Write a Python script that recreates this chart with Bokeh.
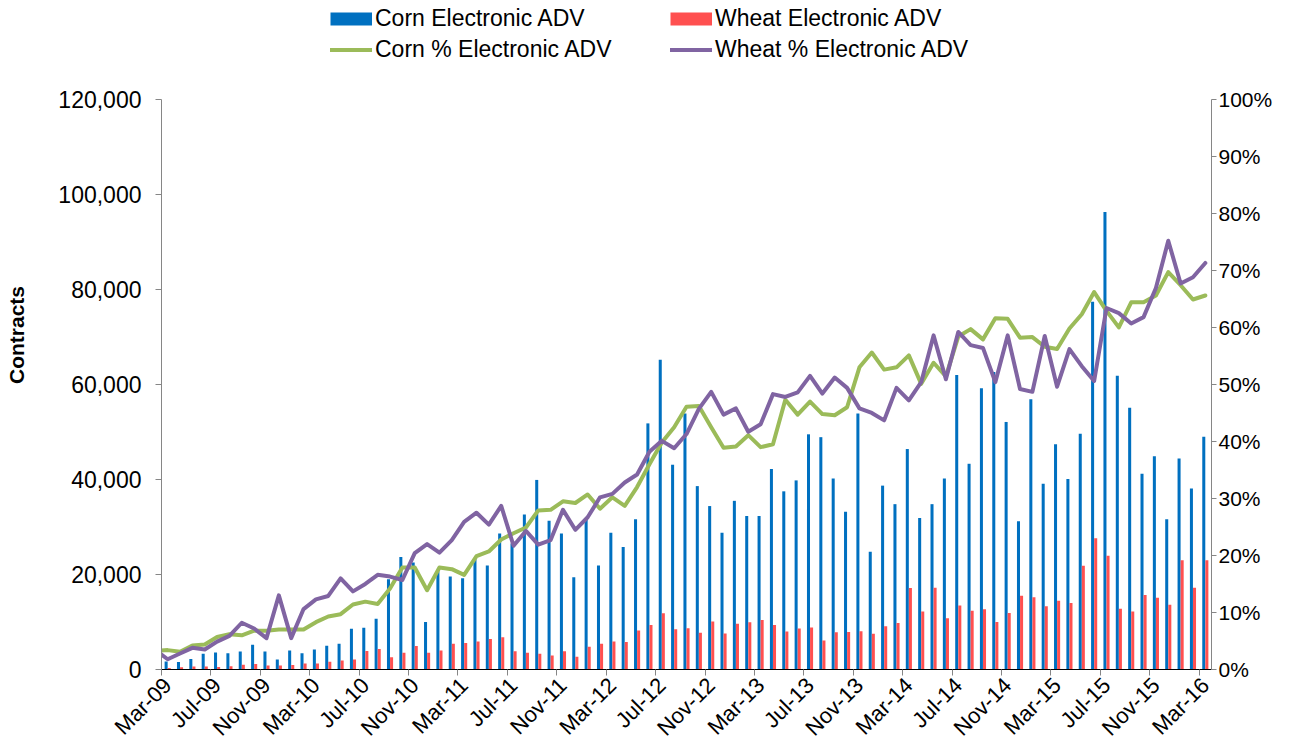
import math
from bokeh.plotting import figure
from bokeh.models import (Range1d, LinearAxis, FixedTicker, NumeralTickFormatter,
                          PrintfTickFormatter, Legend, LegendItem, ColumnDataSource)
from bokeh.transform import dodge
from bokeh.embed import file_html
from bokeh.resources import INLINE

# ---- data -------------------------------------------------------------
# bar months: Mar-09 .. Mar-16 (85 months)
mon_names = ["Jan", "Feb", "Mar", "Apr", "May", "Jun", "Jul", "Aug", "Sep", "Oct", "Nov", "Dec"]
bar_months = [f"{mon_names[(2 + k) % 12]}-{(9 + (2 + k) // 12):02d}" for k in range(85)]
# line months start one month earlier (Feb-09 point is clipped at the axis)
line_months = ["Feb-09"] + bar_months

tick_labels = ["Mar-09", "Jul-09", "Nov-09", "Mar-10", "Jul-10", "Nov-10", "Mar-11", "Jul-11",
               "Nov-11", "Mar-12", "Jul-12", "Nov-12", "Mar-13", "Jul-13", "Nov-13", "Mar-14",
               "Jul-14", "Nov-14", "Mar-15", "Jul-15", "Nov-15", "Mar-16"]

corn_adv = [1700, 1600, 2200, 3300, 3600, 3400, 3800, 5200, 3800, 2100, 4000, 3400, 4200, 5000,
            5400, 8600, 8800,
            10700, 19000, 23700, 22500, 10000, 20700, 19600, 19200, 23200, 21900, 28600, 26500,
            32600, 39900, 31300, 28600, 19400,
            31700, 21900, 28800, 25800, 31600, 51800, 65200, 43100, 53900, 38600, 34400, 28800,
            35500, 32300, 32300, 42200, 37500,
            39800, 49500, 48900, 40200, 33200, 53900, 24800, 38700, 34800, 46400, 31900, 34800,
            40200, 62000, 43300, 59200, 62600,
            52100, 31200, 56900, 39100, 47400, 40100, 49600, 77400, 96300, 61800, 55100, 41200,
            44900, 31600, 44400, 38100, 49000]

wheat_adv = [310, 470, 630, 630, 550, 700, 1020, 1170, 860, 860, 940, 1250, 1250, 1640, 1880,
             2110, 3910,
             4300, 2580, 3520, 4930, 3520, 3990, 5400, 5560, 5870, 6420, 6810, 3840, 3520, 3290,
             2970, 3840, 2700,
             4780, 5400, 5870, 5790, 8220, 9390, 11820, 8450, 8690, 7750, 10100, 7590, 9630,
             9940, 10410, 9390, 7980,
             8610, 8850, 6110, 7830, 7910, 8060, 7510, 9080, 9790, 17140, 12210, 17220, 10800,
             13460, 12370, 12680, 10020,
             11900, 15500, 15190, 13310, 14480, 14010, 21840, 27630, 23950, 12760, 12210, 15660,
             15110, 13620, 23010, 17220, 23010]

corn_pct = [3.3,
            3.4, 3.1, 4.2, 4.4, 5.7, 6.2, 6.0, 6.8, 6.8, 7.0, 7.0, 7.0, 8.3, 9.3, 9.7, 11.4, 11.9,
            11.5, 14.2, 17.9, 17.9, 13.9, 17.9, 17.6, 16.6, 19.9, 20.7, 22.8, 23.9, 24.9, 27.9,
            28.0, 29.5, 29.2,
            30.7, 28.2, 30.2, 28.7, 32.0, 36.0, 39.8, 42.5, 46.1, 46.2, 42.5, 38.9, 39.1, 41.1,
            39.0, 39.5, 47.3,
            44.7, 47.0, 44.8, 44.6, 46.0, 53.0, 55.6, 52.6, 53.0, 55.1, 50.1, 53.8, 51.4, 58.4,
            59.7, 57.9, 61.6,
            61.5, 58.2, 58.3, 56.6, 56.2, 59.8, 62.3, 66.2, 62.9, 60.0, 64.4, 64.4, 65.6, 69.7,
            67.4, 64.9, 65.6]

wheat_pct = [3.4,
             1.8, 2.8, 3.8, 3.5, 4.9, 5.9, 8.2, 7.2, 5.5, 13.0, 5.5, 10.6, 12.3, 12.9, 16.0, 13.7,
             15.0,
             16.6, 16.3, 15.7, 20.4, 22.0, 20.5, 22.7, 25.9, 27.5, 25.4, 28.7, 21.7, 24.3, 21.9,
             22.7, 28.0, 24.5,
             26.7, 30.2, 30.8, 32.8, 34.2, 38.2, 40.1, 38.8, 41.3, 45.7, 48.7, 44.7, 45.8, 41.7,
             43.0, 48.3, 47.8,
             48.6, 51.5, 48.4, 51.2, 49.4, 45.8, 45.0, 43.7, 49.4, 47.2, 50.4, 58.6, 50.9, 59.2,
             56.9, 56.4, 50.4,
             58.6, 49.2, 48.7, 58.5, 49.6, 56.2, 53.2, 50.6, 63.4, 62.5, 60.7, 61.8, 66.9, 75.2,
             67.7, 68.8, 71.3]

# ---- layout / styling ---------------------------------------------------
FONT = "Liberation Sans"
BLUE = "#0070C0"
RED = "#FF5050"
GREEN = "#9BBB59"
PURPLE = "#8064A2"
AXIS_GREY = "#868686"

W, H = 1300, 752
LEFT, RIGHT, BOTTOM = 161, 1211, 670      # frame edges in pixels (frame reaches the top)
PLOT_TOP = 99                              # where 120,000 / 100% sit
ADV_MAX, PCT_MAX = 120000, 100
scale = BOTTOM / (BOTTOM - PLOT_TOP)       # frame extends above the value area for the legend

bar_x = list(range(len(bar_months)))                 # Mar-09 at 0
line_x = [i - 1 for i in range(len(line_months))]    # Feb-09 at -1

bars = ColumnDataSource(dict(x=bar_x, month=bar_months, corn=corn_adv, wheat=wheat_adv))
lines = ColumnDataSource(dict(x=line_x, month=line_months, corn=corn_pct, wheat=wheat_pct))

p = figure(width=W, height=H, output_backend="svg", toolbar_location=None,
           x_range=Range1d(-0.5, len(bar_months) - 0.5),
           y_range=Range1d(0, ADV_MAX * scale),
           min_border_left=LEFT, min_border_right=W - RIGHT, min_border_top=0,
           min_border_bottom=H - BOTTOM)
p.outline_line_color = None
p.xgrid.visible = False
p.ygrid.visible = False
p.background_fill_color = "white"
p.border_fill_color = "white"

p.extra_y_ranges = {"pct": Range1d(0, PCT_MAX * scale)}

r_corn = p.vbar(x=dodge("x", -0.125, range=p.x_range), top="corn", source=bars, width=0.245,
                fill_color=BLUE, line_color=None)
r_wheat = p.vbar(x=dodge("x", 0.125, range=p.x_range), top="wheat", source=bars, width=0.245,
                 fill_color=RED, line_color=None)
r_cpct = p.line(x="x", y="corn", source=lines, y_range_name="pct", line_color=GREEN,
                line_width=4, line_join="round", line_cap="round")
r_wpct = p.line(x="x", y="wheat", source=lines, y_range_name="pct", line_color=PURPLE,
                line_width=4, line_join="round", line_cap="round")

# legend key swatches for the bar series: flat wide patches (nothing drawn on the plot)
nan = float("nan")
sw_corn = p.line(x=[nan], y=[nan], line_color=BLUE, line_width=13, line_cap="butt")
sw_wheat = p.line(x=[nan], y=[nan], line_color=RED, line_width=13, line_cap="butt")

# x axis: labels at category centres, tick marks at category boundaries
label_pos = list(range(0, len(bar_months), 4))
xax = p.xaxis[0]
xax.ticker = FixedTicker(ticks=label_pos, minor_ticks=[t - 0.5 for t in label_pos])
xax.major_label_overrides = {t: lab for t, lab in zip(label_pos, tick_labels)}
xax.major_label_orientation = math.pi / 4
xax.major_tick_line_color = None
xax.major_tick_out = 6
xax.minor_tick_line_color = AXIS_GREY
xax.minor_tick_in = 0
xax.minor_tick_out = 6
xax.axis_line_color = "black"
xax.major_label_text_font = FONT
xax.major_label_text_font_size = "22px"
xax.major_label_text_color = "black"
xax.major_label_standoff = 6

yax = p.yaxis[0]
yax.bounds = (0, ADV_MAX)
yax.ticker = FixedTicker(ticks=list(range(0, ADV_MAX + 1, 20000)))
yax.formatter = NumeralTickFormatter(format="0,0")
yax.axis_line_color = AXIS_GREY
yax.major_tick_line_color = AXIS_GREY
yax.major_tick_in = 0
yax.major_tick_out = 6
yax.minor_tick_line_color = None
yax.major_label_text_font = FONT
yax.major_label_text_font_size = "23px"
yax.major_label_text_color = "black"
yax.major_label_standoff = 14
yax.axis_label = "Contracts"
yax.axis_label_text_font = FONT
yax.axis_label_text_font_size = "21px"
yax.axis_label_text_font_style = "bold"
yax.axis_label_text_color = "black"
yax.axis_label_standoff = 27

rax = LinearAxis(y_range_name="pct", ticker=FixedTicker(ticks=list(range(0, PCT_MAX + 1, 10))),
                 formatter=PrintfTickFormatter(format="%d%%"), bounds=(0, PCT_MAX))
rax.axis_line_color = AXIS_GREY
rax.major_tick_line_color = AXIS_GREY
rax.major_tick_in = 0
rax.major_tick_out = 5
rax.minor_tick_line_color = None
rax.major_label_text_font = FONT
rax.major_label_text_font_size = "21px"
rax.major_label_text_color = "black"
rax.major_label_standoff = 2
p.add_layout(rax, "right")

ROW_H, PAD, GAP = 27, 4, 4
LEG_BOTTOM = 64                              # pixel row of the legend's lower edge


def make_legend(items, x_left):
    lg = Legend(items=items, location=(x_left - LEFT, BOTTOM - LEG_BOTTOM),
                orientation="vertical")
    lg.label_text_font = FONT
    lg.label_text_font_size = "23px"
    lg.label_text_color = "black"
    lg.glyph_width = 42
    lg.glyph_height = ROW_H
    lg.label_height = ROW_H
    lg.label_standoff = 3
    lg.spacing = GAP
    lg.padding = PAD
    lg.margin = 0
    lg.border_line_color = None
    lg.background_fill_alpha = 0
    return lg


leg1 = make_legend([LegendItem(label="Corn Electronic ADV", renderers=[sw_corn]),
                    LegendItem(label="Corn % Electronic ADV", renderers=[r_cpct])], 330)
leg2 = make_legend([LegendItem(label="Wheat Electronic ADV", renderers=[sw_wheat]),
                    LegendItem(label="Wheat % Electronic ADV", renderers=[r_wpct])], 670)
p.add_layout(leg1)
p.add_layout(leg2)

open("out.html", "w").write(file_html(p, INLINE))
